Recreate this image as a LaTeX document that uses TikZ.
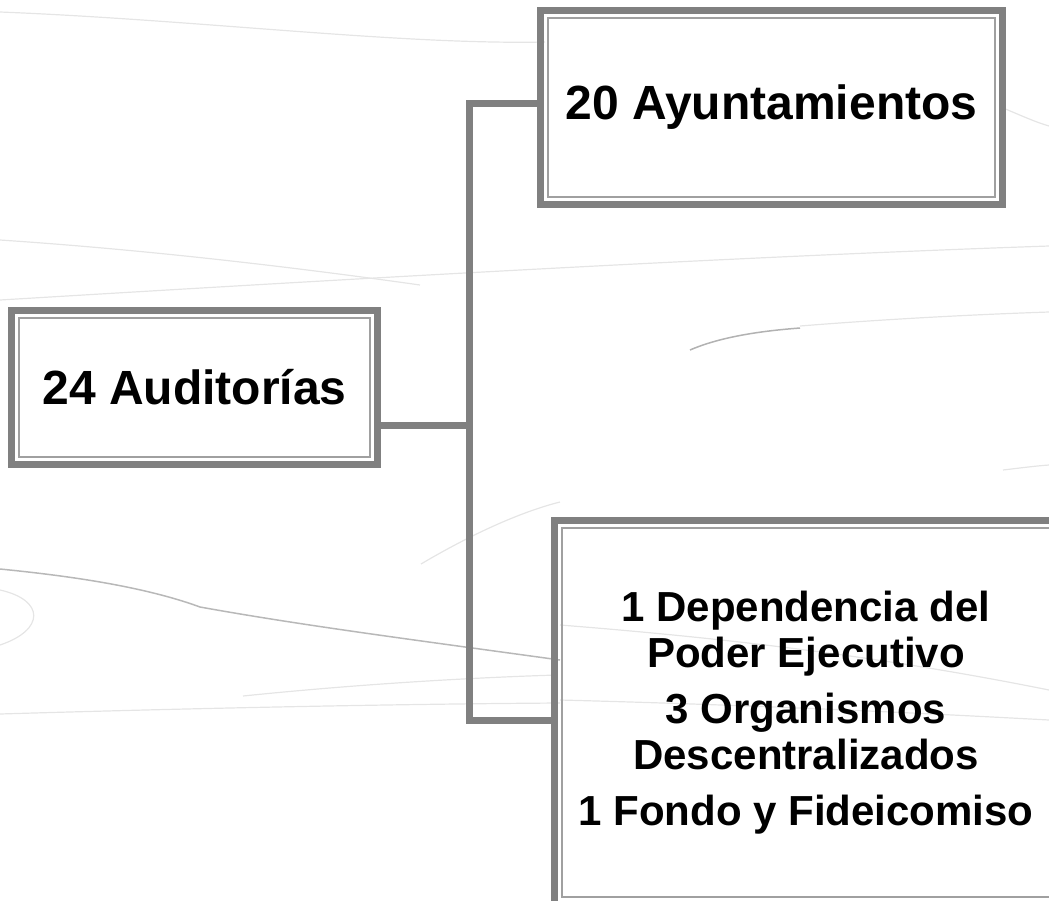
\documentclass[tikz,border=0pt]{standalone}
\usepackage{fontspec}
\setmainfont{Liberation Sans}
\definecolor{marcogris}{HTML}{808080}

\begin{document}
\begin{tikzpicture}[x=1pt,y=-1pt,
    caja/.style={draw=marcogris, line width=7pt, inner sep=0pt, outer sep=0pt, align=center},
    marco/.style={draw=marcogris!75, line width=2pt},
    enlace/.style={draw=marcogris, line width=7pt},
    estela/.style={draw=black!10, line width=1.2pt}]
    \useasboundingbox (0,0) rectangle (1049,900);

    % fondo
    \draw[estela] (0,12) .. controls (200,20) and (400,45) .. (545,42);
    \draw[estela] (0,240) .. controls (150,250) and (300,268) .. (420,285);
    \draw[estela] (0,300) .. controls (300,282) and (700,258) .. (1049,246);
    \draw[estela] (1003,108) .. controls (1020,115) and (1035,122) .. (1049,126);
    \draw[black!30, line width=1.5pt] (690,350) .. controls (720,337) and (760,331) .. (800,328);
    \draw[estela] (800,326) .. controls (900,318) and (990,314) .. (1049,312);
    \draw[estela] (421,564) .. controls (470,535) and (520,512) .. (560,502);
    \draw[estela] (1003,470) .. controls (1020,468) and (1035,466) .. (1049,465);
    \draw[black!28, line width=1.5pt] (0,569) .. controls (60,575) and (140,585) .. (200,607) .. controls (300,625) and (400,638) .. (560,660);
    \draw[estela] (0,590) .. controls (45,600) and (45,630) .. (0,645);
    \draw[estela] (243,696) .. controls (350,685) and (460,678) .. (557,675);
    \draw[estela] (0,714) .. controls (200,708) and (400,704) .. (560,703);
    \draw[estela] (560,625) .. controls (750,640) and (900,660) .. (1049,690);
    \draw[estela] (560,700) .. controls (750,705) and (900,712) .. (1049,720);

    \node[caja, minimum width=366pt, minimum height=154pt,
        font=\bfseries\fontsize{48}{54}\selectfont] (aud) at (194.5,387.5) {24 Auditorías};
    \node[caja, minimum width=462pt, minimum height=194pt,
        font=\bfseries\fontsize{48}{54}\selectfont] (ayu) at (771.5,107.5) {20 Ayuntamientos};
    \node[caja, minimum width=503pt, minimum height=384pt,
        font=\bfseries\fontsize{42}{46}\selectfont] (otros) at (806,712.5)
        {1 Dependencia del\\Poder Ejecutivo\\[10pt]3 Organismos\\Descentralizados\\[10pt]1 Fondo y Fideicomiso};

    \foreach \n in {aud,ayu,otros}
        \draw[marco] ([shift={(7.5,7.5)}]\n.north west) rectangle ([shift={(-7.5,-7.5)}]\n.south east);

    \coordinate (nudo) at (469,425.5);
    \coordinate (arriba) at (469,103);
    \coordinate (abajo) at (469,720.5);

    \draw[enlace] (aud.east |- nudo) -- (nudo);
    \draw[enlace] (ayu.west |- arriba) -- (arriba) -- (abajo) -- (otros.west |- abajo);
\end{tikzpicture}
\end{document}
